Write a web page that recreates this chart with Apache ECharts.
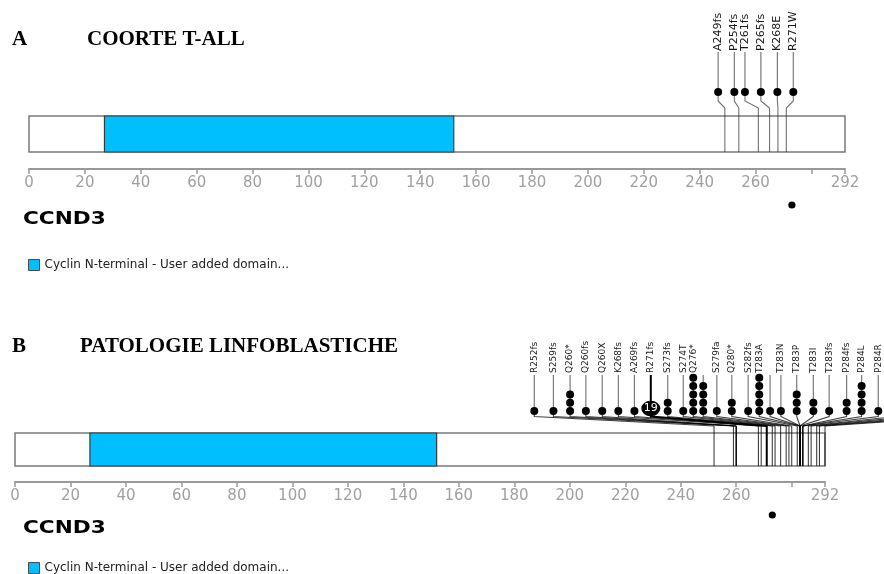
<!DOCTYPE html>
<html>
<head>
<meta charset="utf-8">
<script src="https://cdn.jsdelivr.net/npm/echarts@6/dist/echarts.min.js"></script>
<style>
  html, body { margin: 0; padding: 0; background: #ffffff; }
  #chart { width: 884px; height: 574px; }
</style>
</head>
<body>
<div id="chart"></div>
<script>
// CCND3 protein: length, Pfam domain and ruler ticks
const PROTEIN_LENGTH = 292;
const GENE_NAME = 'CCND3';
const DOMAIN_NAME = 'Cyclin N-terminal - User added domain...';
const domainRange = [27, 152];
const rulerTicks = [0, 20, 40, 60, 80, 100, 120, 140, 160, 180, 200, 220, 240, 260, 280, 292];
const unlabelledTicks = [280];
const markerPosition = 273;

// Panel A - T-ALL cohort
const cohortAMutations = ['A249fs', 'P254fs', 'T261fs', 'P265fs', 'K268E', 'R271W'];
const cohortAPositions = [249, 254, 261, 265, 268, 271];
const cohortACounts = [1, 1, 1, 1, 1, 1];
// where each lollipop head sits along the ruler once heads are spread apart
const cohortAHeads = [246.6, 252.4, 256.2, 261.9, 267.8, 273.5];

// Panel B - lymphoblastic diseases
const cohortBMutations = ['R252fs', 'S259fs', 'Q260*', 'Q260fs', 'Q260X', 'K268fs', 'A269fs', 'R271fs',
  'S273fs', 'S274T', 'Q276*', '', 'S279fa', 'Q280*', 'S282fs', 'T283A', '', 'T283N', 'T283P', 'T283I',
  'T283fs', 'P284fs', 'P284L', 'P284R', '', '', '', '', ''];
const cohortBPositions = [252, 259, 260, 260, 260, 268, 269, 271,
  273, 274, 276, 278, 279, 280, 282, 283, 283, 283, 283, 283,
  283, 284, 284, 284, 286, 287, 289, 290, 292];
const cohortBCounts = [1, 1, 3, 1, 1, 1, 1, 19,
  2, 1, 5, 4, 1, 2, 1, 5, 1, 1, 3, 2,
  1, 2, 4, 1, 1, 1, 1, 1, 1];
const cohortBHeads = [187.2, 194.1, 200.1, 205.8, 211.7, 217.5, 223.3, 229.2,
  235.3, 240.9, 244.5, 248.1, 253.0, 258.4, 264.3, 268.3, 272.2, 276.1, 281.8, 287.8,
  293.5, 299.8, 305.2, 311.2, 317.2, 323.2, 329.2, 335.2, 341.2];
// counts above this are drawn as a single labelled disc
const DISC_THRESHOLD = 6;

const panels = [
  {
    title: 'A', subtitle: 'COORTE T-ALL', titleY: 40, subtitleX: 87, titleSize: 21,
    names: cohortAMutations, positions: cohortAPositions, counts: cohortACounts, heads: cohortAHeads,
    grid: { left: 29, width: 816, top: 0, height: 169 },
    labelBase: 51, stemTop: 52, headY: 92, kneeY: 101, joinY: 108,
    barTop: 116, barBottom: 152, labelSize: 11, linkColor: 'rgba(40,40,40,0.65)',
    markerY: 205, geneY: 219, legendTop: 259
  },
  {
    title: 'B', subtitle: 'PATOLOGIE LINFOBLASTICHE', titleY: 347, subtitleX: 80, titleSize: 21,
    names: cohortBMutations, positions: cohortBPositions, counts: cohortBCounts, heads: cohortBHeads,
    grid: { left: 15, width: 810, top: 0, height: 482 },
    labelBase: 373, stemTop: 375, headY: 411, kneeY: 416.5, joinY: 426,
    barTop: 433, barBottom: 466, labelSize: 9, linkColor: 'rgba(0,0,0,0.75)',
    markerY: 515, geneY: 528, legendTop: 562
  }
];

const STACK_STEP = 8.3;
const DOT_R = 4;

const grids = [], xAxes = [], yAxes = [], series = [], legends = [], graphics = [];

panels.forEach(function (p, k) {
  grids.push(Object.assign({ outerBoundsMode: 'none', containLabel: false }, p.grid));
  xAxes.push({
    gridIndex: k, type: 'value', min: 0, max: PROTEIN_LENGTH, interval: 20, position: 'bottom',
    axisLine: { show: true, onZero: false, lineStyle: { color: '#999', width: 2 } },
    axisTick: { show: true, length: 5, lineStyle: { color: '#999', width: 1.5 } },
    axisLabel: {
      show: true, color: '#a0a0a0', fontSize: 15, fontFamily: 'DejaVu Sans', margin: 7,
      showMinLabel: true, showMaxLabel: true, hideOverlap: false,
      formatter: function (v) { return unlabelledTicks.indexOf(v) >= 0 ? '' : String(v); }
    },
    splitLine: { show: false }
  });
  yAxes.push({ gridIndex: k, type: 'value', min: 0, max: p.grid.height, inverse: true, show: false });

  // protein backbone
  series.push({
    type: 'custom', xAxisIndex: k, yAxisIndex: k, silent: true, clip: false, z: 1,
    data: [[0, PROTEIN_LENGTH]],
    renderItem: function (params, api) {
      const a = api.coord([api.value(0), p.barTop]);
      const b = api.coord([api.value(1), p.barBottom]);
      return { type: 'rect', shape: { x: a[0], y: a[1], width: b[0] - a[0], height: b[1] - a[1] },
        style: { fill: '#ffffff', stroke: '#7a7a7a', lineWidth: 1.5 } };
    }
  });
  // Pfam domain
  series.push({
    name: DOMAIN_NAME, type: 'custom', xAxisIndex: k, yAxisIndex: k, silent: true, clip: false, z: 2,
    itemStyle: { color: '#00bfff' },
    data: [domainRange],
    renderItem: function (params, api) {
      const a = api.coord([api.value(0), p.barTop]);
      const b = api.coord([api.value(1), p.barBottom]);
      return { type: 'rect', shape: { x: a[0], y: a[1], width: b[0] - a[0], height: b[1] - a[1] },
        style: { fill: '#00bfff', stroke: '#3a3a3a', lineWidth: 1.2 } };
    }
  });
  // lollipops: site line through the backbone, connector, stem, stacked heads and label
  series.push({
    type: 'custom', xAxisIndex: k, yAxisIndex: k, silent: true, clip: false, z: 3,
    data: p.positions.map(function (pos, i) { return [pos, p.counts[i], p.heads[i]]; }),
    renderItem: function (params, api) {
      const i = params.dataIndex;
      const pos = api.value(0), count = api.value(1), head = api.value(2);
      const site = api.coord([pos, p.joinY]);
      const bottom = api.coord([pos, p.barBottom]);
      const hx = api.coord([head, p.headY])[0];
      const headY = api.coord([head, p.headY])[1];
      const knee = api.coord([head, p.kneeY]);
      const top = api.coord([head, p.stemTop]);
      const big = count >= DISC_THRESHOLD;
      const lc = big ? '#000' : p.linkColor;
      const lw = big ? 2 : 1.1;
      const children = [
        { type: 'line', shape: { x1: site[0], y1: site[1], x2: bottom[0], y2: bottom[1] },
          style: { stroke: lc, lineWidth: lw } },
        { type: 'polyline', shape: { points: [[hx, headY], [knee[0], knee[1]], [site[0], site[1]]] },
          style: { stroke: lc, lineWidth: lw, fill: null } },
        { type: 'line', shape: { x1: hx, y1: top[1], x2: hx, y2: headY },
          style: { stroke: big ? '#000' : '#7a7a7a', lineWidth: big ? 2 : 1.2 } }
      ];
      if (big) {
        children.push({ type: 'circle', x: hx, y: headY - 2.5, scaleY: 0.82, shape: { cx: 0, cy: 0, r: 9.5 },
          style: { fill: '#000' } });
        children.push({ type: 'text', x: hx, y: headY - 2.5,
          style: { text: String(count), fill: '#fff', fontSize: 11, fontFamily: 'DejaVu Sans',
            align: 'center', verticalAlign: 'middle' } });
      } else {
        for (let s = 0; s < count; s++) {
          children.push({ type: 'circle', shape: { cx: hx, cy: headY - s * STACK_STEP, r: DOT_R },
            style: { fill: '#000' } });
        }
      }
      if (p.names[i]) {
        // vertical label reading bottom-to-top, starting just above the stem
        children.push({ type: 'text', x: hx, y: p.labelBase, rotation: Math.PI / 2,
          style: { text: p.names[i], fill: '#1a1a1a', fontSize: p.labelSize, fontFamily: 'DejaVu Sans',
            align: 'left', verticalAlign: 'middle' } });
      }
      return { type: 'group', children: children };
    }
  });
  // position marker under the ruler
  series.push({
    type: 'custom', xAxisIndex: k, yAxisIndex: k, silent: true, clip: false, z: 3,
    data: [[markerPosition]],
    renderItem: function (params, api) {
      const c = api.coord([api.value(0), p.grid.height]);
      return { type: 'circle', shape: { cx: c[0], cy: p.markerY, r: 3.6 }, style: { fill: '#000' } };
    }
  });

  legends.push({
    data: [{ name: DOMAIN_NAME, icon: 'rect', itemStyle: { color: '#00bfff', borderColor: '#4a4a4a', borderWidth: 1 } }],
    left: 28, top: p.legendTop, itemWidth: 11, itemHeight: 11, itemGap: 5, padding: 0,
    selectedMode: false,
    textStyle: { fontSize: 12, color: '#222', fontFamily: 'DejaVu Sans', padding: [0, 0, 0, 0] }
  });

  graphics.push(
    { type: 'text', x: 12, y: p.titleY,
      style: { text: p.title, font: 'bold ' + p.titleSize + 'px "Liberation Serif"', fill: '#000', verticalAlign: 'middle' } },
    { type: 'text', x: p.subtitleX, y: p.titleY,
      style: { text: p.subtitle, font: 'bold ' + p.titleSize + 'px "Liberation Serif"', fill: '#000', verticalAlign: 'middle' } },
    { type: 'text', x: 23, y: p.geneY, scaleX: 1.2,
      style: { text: GENE_NAME, font: 'bold 18px "DejaVu Sans"', fill: '#000', verticalAlign: 'middle' } }
  );
});

const chart = echarts.init(document.getElementById('chart'), null, { renderer: 'canvas' });
chart.setOption({
  animation: false,
  backgroundColor: '#ffffff',
  grid: grids,
  xAxis: xAxes,
  yAxis: yAxes,
  legend: legends,
  graphic: graphics,
  series: series
});
</script>
</body>
</html>
